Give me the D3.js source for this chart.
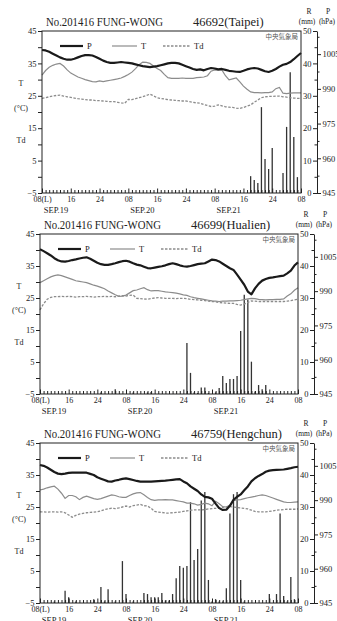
<!DOCTYPE html>
<html>
<head>
<meta charset="utf-8">
<script src="https://cdn.jsdelivr.net/npm/d3@7"></script>
<style>
  body { margin: 0; background: #fff; }
  svg text { font-family: "Liberation Serif", "DejaVu Serif", serif; fill: #222; }
</style>
</head>
<body>
<svg id="chart" width="337" height="621"></svg>
<script>
// labels
const typhoon = "No.201416 FUNG-WONG"
const stations = ["46692(Taipei)", "46699(Hualien)", "46759(Hengchun)"]
const hourLabels = ["08(L)", "16", "24", "08", "16", "24", "08", "16", "24", "08"]
const dayLabels = ["SEP.19", "SEP.20", "SEP.21"]
const tLabels = [-5, 5, 15, 25, 35, 45]
const pLabels = [945, 960, 975, 990, 1005]

// hourly values, 08 Sep 19 .. 08 Sep 22 (local)
const taipeiP = [1006.8,1006.6,1006.0,1005.2,1004.4,1003.6,1003.0,1002.6,1002.6,1003.0,
  1003.6,1004.2,1004.6,1004.6,1004.4,1003.8,1003.0,1002.2,1001.6,1001.2,
  1001.2,1001.4,1001.6,1001.4,1001.2,1001.0,1000.6,1000.2,999.8,999.6,
  999.4,999.6,999.8,1000.2,1000.6,1001.0,1001.2,1001.2,1001.0,1000.4,
  999.8,999.2,998.6,998.2,998.4,998.0,998.6,999.0,998.8,998.4,
  998.6,998.2,997.8,997.6,997.4,997.3,997.8,998.4,998.8,999.0,
  998.8,998.2,997.6,997.3,997.8,998.6,999.6,1000.4,1000.8,1001.6,
  1002.8,1004.2,1005.5]
const taipeiT = [31.4,32.8,33.8,34.4,34.8,35.0,34.2,33.0,32.0,31.4,
  30.8,30.4,30.0,29.7,29.4,29.3,29.6,29.4,29.6,29.8,
  30.0,30.2,30.5,31.0,31.6,32.3,33.4,34.6,35.4,35.3,
  35.0,34.2,33.4,32.8,31.6,30.6,30.4,30.4,30.4,30.5,
  30.4,30.4,30.4,30.6,30.7,30.8,31.2,32.6,33.0,32.9,
  33.0,31.2,29.9,30.2,30.5,29.3,28.0,27.0,26.2,26.0,
  26.0,25.9,26.0,26.0,26.2,27.2,27.6,25.8,25.7,25.8,
  25.9,25.9,25.9]
const taipeiTd = [24.2,24.4,24.7,24.9,25.1,25.2,24.9,24.7,24.5,24.3,
  24.1,24.0,23.8,23.7,23.7,23.5,23.5,23.4,23.3,23.2,
  23.2,23.0,22.8,22.7,23.9,23.8,24.1,24.4,24.7,25.1,
  25.5,25.0,24.4,24.2,24.0,23.8,23.7,23.6,23.5,23.4,
  23.4,23.2,23.0,22.8,22.7,22.3,22.0,21.7,21.8,22.2,
  21.9,21.6,21.5,21.4,21.2,21.1,21.4,21.8,22.2,23.0,
  23.7,24.4,24.7,24.8,24.8,24.9,24.9,24.7,24.6,24.4,
  24.3,24.2,24.2]
const taipeiRain = [[58,5.2],[59,4.0],[60,3.1],[61,26.5],[62,10.5],[63,7.4],[64,13.9],
  [67,6.2],[68,20.4],[69,37.3],[70,17.3],[71,4.9]]

const hualienP = [1008.3,1007.5,1006.6,1005.6,1004.4,1003.5,1003.0,1002.9,1003.2,1003.6,
  1003.9,1004.3,1004.6,1004.8,1004.2,1003.3,1002.4,1001.8,1001.5,1001.5,
  1001.8,1002.2,1002.7,1003.1,1003.3,1002.9,1002.2,1001.6,1001.3,1000.7,
  1000.1,1000.0,1000.3,1000.6,1000.9,1001.3,1001.8,1002.2,1001.8,1001.3,
  1000.9,1000.7,1001.0,1001.4,1001.8,1002.0,1002.2,1003.0,1003.8,1003.6,
  1003.0,1002.0,1001.0,1000.0,999.3,997.2,995.0,992.8,989.8,988.6,
  991.2,993.2,994.6,995.3,995.8,996.0,996.3,996.6,996.8,997.8,
  999.0,1001.2,1002.6]
const hualienT = [29.8,30.4,31.0,31.6,32.0,32.2,32.0,31.6,31.2,30.8,
  30.4,30.2,30.0,29.8,29.4,29.0,28.7,28.3,27.9,27.2,
  26.6,26.0,25.5,25.6,25.9,26.6,27.3,27.5,27.9,28.2,
  27.6,27.2,27.3,27.3,27.1,26.9,26.8,26.7,26.5,26.3,
  26.0,25.8,25.4,25.1,24.9,24.7,24.5,24.3,24.1,24.0,
  23.9,24.0,24.0,24.1,24.1,24.2,24.3,24.5,24.7,24.9,
  24.8,24.6,24.5,24.4,24.5,24.5,24.6,24.6,24.7,25.6,
  26.3,27.4,28.2]
const hualienTd = [21.3,23.2,24.6,25.2,25.4,25.4,25.5,25.4,25.5,25.4,
  25.3,25.4,25.4,25.5,25.4,25.3,25.4,25.4,25.5,25.4,
  25.5,25.4,25.6,25.7,25.6,25.8,25.9,24.9,24.8,24.7,
  24.6,24.8,25.0,25.1,25.0,24.9,24.9,24.9,24.8,24.9,
  24.9,24.8,24.6,24.5,24.4,24.3,24.2,24.0,23.9,23.8,
  23.6,23.5,23.4,23.3,23.3,23.0,22.8,23.1,23.6,24.1,
  24.0,23.9,23.9,23.9,23.9,23.9,23.9,23.9,23.9,24.0,
  24.2,24.4,24.6]
const hualienRain = [[17,0.5],[21,1.5],[26,0.5],[30,0.5],[31,0.6],[41,15.9],[42,6.6],[43,0.5],
  [44,0.3],[45,2.0],[46,2.0],[47,0.3],[49,0.5],[50,1.9],[51,5.6],[52,3.4],[53,4.7],[54,4.7],
  [55,5.6],[56,19.7],[57,31.0],[58,29.5],[59,10.1],[60,0.8],[61,2.8],[62,1.5],[63,2.8]]

const hengchunP = [1005.4,1005.0,1004.3,1003.3,1002.3,1001.6,1001.4,1001.6,1001.9,1002.0,
  1002.0,1002.0,1002.0,1002.0,1001.5,1001.0,1000.0,999.4,998.8,998.2,
  998.1,998.6,998.9,999.3,999.5,999.2,998.8,998.4,998.1,998.1,
  998.1,998.1,998.2,998.3,998.4,998.5,998.7,998.9,999.1,999.2,
  998.2,997.4,996.0,995.0,994.0,992.5,991.4,991.2,990.6,988.5,
  986.5,985.7,985.8,987.5,990.1,991.5,992.5,994.3,996.0,998.2,
  999.6,1000.6,1001.4,1002.4,1002.9,1003.1,1003.2,1003.3,1003.4,1003.7,
  1004.0,1004.4,1004.6]
const hengchunT = [30.3,30.6,31.0,31.3,31.5,30.6,29.3,27.7,28.6,28.6,
  28.2,27.3,28.0,28.4,28.0,27.6,27.4,27.6,28.0,28.4,
  28.8,28.6,28.2,28.0,28.0,28.6,29.1,29.4,29.5,28.8,
  28.0,27.3,27.1,27.2,27.2,27.3,27.2,27.2,27.0,26.8,
  26.6,26.2,26.2,26.0,25.6,25.8,26.2,26.0,25.4,26.8,
  26.0,25.1,25.0,25.6,27.0,27.2,27.3,27.6,27.9,28.1,
  28.3,28.6,28.8,28.6,28.2,27.8,27.4,27.0,26.6,26.4,
  26.4,26.5,26.6]
const hengchunTd = [23.5,23.5,23.4,23.5,23.5,23.4,23.5,23.2,22.5,21.8,
  22.4,22.8,23.0,23.2,23.3,23.4,23.5,23.8,24.2,24.4,
  24.6,24.5,24.7,25.0,25.3,25.0,25.4,25.6,25.8,25.4,
  25.3,24.6,23.6,23.4,23.3,23.1,23.1,23.2,23.3,23.4,
  23.6,23.8,24.0,24.1,24.1,24.1,24.2,24.4,24.5,24.6,
  24.8,24.9,25.0,25.1,25.0,24.8,24.7,24.6,24.4,24.0,
  23.6,23.5,23.5,23.5,23.6,23.8,24.0,24.1,24.2,24.3,
  24.3,24.3,24.4]
const hengchunRain = [[4,0.5],[7,3.8],[8,1.8],[10,0.5],[15,1.2],[17,5.0],[18,0.5],[19,4.3],
  [21,0.5],[23,13.1],[24,2.8],[26,0.5],[29,3.1],[30,2.8],[31,1.8],[32,1.8],[33,1.8],[34,3.1],
  [35,0.8],[36,0.8],[37,2.8],[38,7.7],[39,11.6],[40,11.0],[41,11.6],[42,31.5],[43,13.4],
  [44,16.9],[45,32.0],[46,34.7],[47,7.2],[48,0.5],[49,1.2],[50,0.5],[51,0.5],[52,4.6],
  [53,28.0],[54,34.0],[55,34.7],[56,7.2],[57,0.5],[64,2.8],[66,2.8],[67,28.0],[68,2.2],
  [69,0.5],[70,8.1],[71,1.2]]

const stationData = [
  { name: stations[0], P: taipeiP, T: taipeiT, Td: taipeiTd, R: taipeiRain },
  { name: stations[1], P: hualienP, T: hualienT, Td: hualienTd, R: hualienRain },
  { name: stations[2], P: hengchunP, T: hengchunT, Td: hengchunTd, R: hengchunRain }
]

// panel boxes
const panels = [
  { top: 31, h: 162, left: 42, right: 301 },
  { top: 234, h: 160, left: 40, right: 298 },
  { top: 443, h: 160, left: 40, right: 298 }
]

const ink = "#222"
const grey = "#8c8c8c"
const serif = '"Liberation Serif", "DejaVu Serif", serif'

const svg = d3.select("#chart")

const styleAxis = (sel, size) => {
  sel.attr("font-family", serif).attr("font-size", size)
  sel.selectAll("line").attr("stroke", ink)
  sel.selectAll("path").attr("stroke", ink)
  sel.selectAll("text").attr("fill", ink)
}

const drawPanel = (g, p, st) => {
  const bottom = p.top + p.h
  const axisX = p.right + 16

  const x = d3.scaleLinear().domain([0, 72]).range([p.left, p.right])
  const yT = d3.scaleLinear().domain([-5, 45]).range([bottom, p.top])
  const yR = d3.scaleLinear().domain([0, 50]).range([bottom, p.top])
  const yP = d3.scaleLinear().domain([945, 1015]).range([bottom, p.top])

  /* ------- RAIN BARS -------*/
  g.append("g").selectAll("line")
    .data(st.R)
    .join("line")
    .attr("x1", d => x(d[0]))
    .attr("x2", d => x(d[0]))
    .attr("y1", yR(0))
    .attr("y2", d => yR(d[1]))
    .attr("stroke", "#333")
    .attr("stroke-width", 1.3)

  /* ------- CURVES -------*/
  const line = (y) => d3.line().x((d, i) => x(i)).y(d => y(d))

  g.append("path").datum(st.Td)
    .attr("d", line(yT))
    .attr("fill", "none")
    .attr("stroke", grey)
    .attr("stroke-width", 1.3)
    .attr("stroke-dasharray", "2.5,1.5")

  g.append("path").datum(st.T)
    .attr("d", line(yT))
    .attr("fill", "none")
    .attr("stroke", grey)
    .attr("stroke-width", 1.2)

  g.append("path").datum(st.P)
    .attr("d", line(yP))
    .attr("fill", "none")
    .attr("stroke", "#1a1a1a")
    .attr("stroke-width", 2.2)
    .attr("stroke-linejoin", "round")

  /* ------- FRAME AND AXES -------*/
  g.append("rect")
    .attr("x", p.left).attr("y", p.top)
    .attr("width", p.right - p.left).attr("height", p.h)
    .attr("fill", "none").attr("stroke", ink).attr("stroke-width", 1)

  const bx = g.append("g")
    .attr("transform", `translate(0,${bottom})`)
    .call(d3.axisBottom(x).tickValues(d3.range(0, 73)).tickSizeInner(-3).tickSizeOuter(0).tickPadding(3.5)
      .tickFormat(d => d % 8 === 0 ? hourLabels[d / 8] : ""))
  bx.select(".domain").remove()
  bx.selectAll(".tick line").attr("y2", d => d % 8 === 0 ? -4.5 : -3)
  styleAxis(bx, 8)

  g.selectAll("text.day")
    .data(dayLabels)
    .join("text")
    .attr("class", "day")
    .attr("x", (d, i) => x(i * 24) + 14)
    .attr("y", bottom + 19.5)
    .attr("text-anchor", "middle")
    .attr("font-size", 8.5)
    .text(d => d)

  const lx = g.append("g")
    .attr("transform", `translate(${p.left},0)`)
    .call(d3.axisLeft(yT).tickValues(d3.range(-5, 46, 5)).tickSize(4).tickPadding(1.5)
      .tickFormat(d => tLabels.includes(d) ? (d < 0 ? "\u2212" + (-d) : d) : ""))
  lx.select(".domain").remove()
  styleAxis(lx, 8.5)

  const rx = g.append("g")
    .attr("transform", `translate(${axisX},0)`)
    .call(d3.axisLeft(yR).tickValues(d3.range(0, 51, 5)).tickSize(4).tickSizeOuter(0).tickPadding(1.5)
      .tickFormat(d => d % 10 === 0 ? d : ""))
  rx.selectAll(".tick line").attr("x2", d => d % 10 === 0 ? -4 : -2.5)
  styleAxis(rx, 8.5)

  const px = g.append("g")
    .attr("transform", `translate(${axisX},0)`)
    .call(d3.axisRight(yP).tickValues(d3.range(945, 1015, 7.5)).tickSize(4).tickSizeOuter(0).tickPadding(1.5)
      .tickFormat(d => pLabels.includes(d) ? d : ""))
  px.select(".domain").remove()
  px.selectAll(".tick line").attr("x2", d => pLabels.includes(d) ? 4 : 2.5)
  styleAxis(px, 8.5)

  /* ------- TEXTS -------*/
  g.append("text")
    .attr("x", p.left + 4).attr("y", p.top - 5)
    .attr("font-size", 12.5)
    .attr("textLength", 117).attr("lengthAdjust", "spacingAndGlyphs")
    .text(typhoon)
  g.append("text")
    .attr("x", p.left + 151).attr("y", p.top - 5)
    .attr("font-size", 12.5)
    .text(st.name)

  const head = [["R", axisX - 8, p.top - 17], ["P", axisX + 11, p.top - 17],
    ["(mm)", axisX - 10, p.top - 7], ["(hPa)", axisX + 10, p.top - 7]]
  g.selectAll("text.head")
    .data(head)
    .join("text")
    .attr("class", "head")
    .attr("x", d => d[1]).attr("y", d => d[2])
    .attr("text-anchor", "middle")
    .attr("font-size", 7.5)
    .text(d => d[0])

  g.append("text")
    .attr("x", p.right - 3).attr("y", p.top + 8)
    .attr("text-anchor", "end")
    .attr("font-size", 6.5)
    .style("font-family", '"Noto Sans CJK TC", sans-serif')
    .style("fill", "#555")
    .text("中央氣象局")

  const side = [["T", 28.8], ["(\u00b0C)", 21.2], ["Td", 11.3]]
  g.selectAll("text.side")
    .data(side)
    .join("text")
    .attr("class", "side")
    .attr("x", p.left - 21)
    .attr("y", d => yT(d[1]))
    .attr("dy", "0.35em")
    .attr("text-anchor", "middle")
    .attr("font-size", 8)
    .text(d => d[0])

  /* ------- LEGEND -------*/
  const ly = p.top + 15
  const legend = [
    { label: "P", x0: 18, x1: 41, color: "#1a1a1a", width: 2.2, dash: null },
    { label: "T", x0: 70, x1: 95, color: grey, width: 1.2, dash: null },
    { label: "Td", x0: 121, x1: 148, color: grey, width: 1.3, dash: "2.5,1.5" }
  ]
  const lg = g.append("g").selectAll("g").data(legend).join("g")
  lg.append("line")
    .attr("x1", d => p.left + d.x0).attr("x2", d => p.left + d.x1)
    .attr("y1", ly).attr("y2", ly)
    .attr("stroke", d => d.color)
    .attr("stroke-width", d => d.width)
    .attr("stroke-dasharray", d => d.dash)
  lg.append("text")
    .attr("x", d => p.left + d.x1 + 4)
    .attr("y", ly)
    .attr("dy", "0.35em")
    .attr("font-size", 8.5)
    .text(d => d.label)
}

stationData.forEach((st, i) => drawPanel(svg.append("g"), panels[i], st))
</script>
</body>
</html>
